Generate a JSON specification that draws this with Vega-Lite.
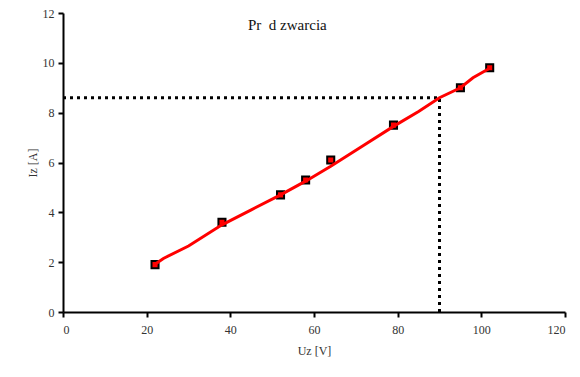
{
  "$schema": "https://vega.github.io/schema/vega-lite/v6.json",
  "width": 502,
  "height": 299,
  "autosize": {"type": "none"},
  "padding": {"left": 63, "top": 13, "right": 15, "bottom": 65},
  "background": "white",
  "config": {
    "view": {"stroke": null},
    "font": "Liberation Serif",
    "axis": {
      "grid": false,
      "domainColor": "black",
      "domainWidth": 2,
      "tickColor": "black",
      "tickWidth": 2,
      "tickSize": 5,
      "labelFont": "Liberation Serif",
      "labelFontSize": 12,
      "labelColor": "#333333",
      "titleFont": "Liberation Serif",
      "titleFontSize": 12,
      "titleFontWeight": "normal",
      "titleColor": "#333333"
    }
  },
  "title": {
    "text": "Pr\u2002d zwarcia",
    "font": "Liberation Serif",
    "fontSize": 15,
    "fontWeight": "normal",
    "color": "#111111",
    "anchor": "start",
    "frame": "group",
    "dx": 185,
    "offset": -26
  },
  "datasets": {
    "points": [
      {"Uz": 22, "Iz": 1.9},
      {"Uz": 38, "Iz": 3.6},
      {"Uz": 52, "Iz": 4.7},
      {"Uz": 58, "Iz": 5.3},
      {"Uz": 64, "Iz": 6.1},
      {"Uz": 79, "Iz": 7.5},
      {"Uz": 95, "Iz": 9.0},
      {"Uz": 102, "Iz": 9.8}
    ],
    "fit": [
      {"Uz": 22, "Iz": 1.92},
      {"Uz": 24, "Iz": 2.15},
      {"Uz": 30, "Iz": 2.65},
      {"Uz": 38, "Iz": 3.5},
      {"Uz": 45, "Iz": 4.1},
      {"Uz": 52, "Iz": 4.7},
      {"Uz": 58, "Iz": 5.25},
      {"Uz": 64, "Iz": 5.85},
      {"Uz": 72, "Iz": 6.7},
      {"Uz": 79, "Iz": 7.45},
      {"Uz": 85, "Iz": 8.05},
      {"Uz": 90, "Iz": 8.6},
      {"Uz": 95, "Iz": 9.0},
      {"Uz": 98, "Iz": 9.4},
      {"Uz": 102, "Iz": 9.78}
    ],
    "hline": [
      {"Uz": 0, "Iz": 8.6},
      {"Uz": 90, "Iz": 8.6}
    ],
    "vline": [
      {"Uz": 90, "Iz": 0},
      {"Uz": 90, "Iz": 8.6}
    ]
  },
  "layer": [
    {
      "data": {"name": "hline"},
      "mark": {"type": "line", "color": "black", "strokeWidth": 3, "strokeDash": [3, 4]},
      "encoding": {
        "x": {"field": "Uz", "type": "quantitative", "scale": {"domain": [0, 120], "nice": false}, "axis": {"values": [0, 20, 40, 60, 80, 100, 120], "title": "Uz [V]", "titlePadding": 10, "labelPadding": 7, "labelFont": "Liberation Serif", "titleFont": "Liberation Serif"}},
        "y": {"field": "Iz", "type": "quantitative", "scale": {"domain": [0, 12], "nice": false}, "axis": {"values": [0, 2, 4, 6, 8, 10, 12], "title": "Iz [A]", "titlePadding": 3, "labelPadding": 4, "labelFont": "Liberation Serif", "titleFont": "Liberation Serif"}}
      }
    },
    {
      "data": {"name": "vline"},
      "mark": {"type": "line", "color": "black", "strokeWidth": 3, "strokeDash": [3, 4]},
      "encoding": {
        "x": {"field": "Uz", "type": "quantitative"},
        "y": {"field": "Iz", "type": "quantitative"}
      }
    },
    {
      "data": {"name": "points"},
      "mark": {"type": "point", "shape": "square", "filled": false, "fill": "red", "fillOpacity": 1, "stroke": "black", "strokeWidth": 2, "size": 50, "opacity": 1},
      "encoding": {
        "x": {"field": "Uz", "type": "quantitative"},
        "y": {"field": "Iz", "type": "quantitative"}
      }
    },
    {
      "data": {"name": "fit"},
      "mark": {"type": "line", "color": "red", "strokeWidth": 3},
      "encoding": {
        "x": {"field": "Uz", "type": "quantitative"},
        "y": {"field": "Iz", "type": "quantitative"}
      }
    }
  ]
}
